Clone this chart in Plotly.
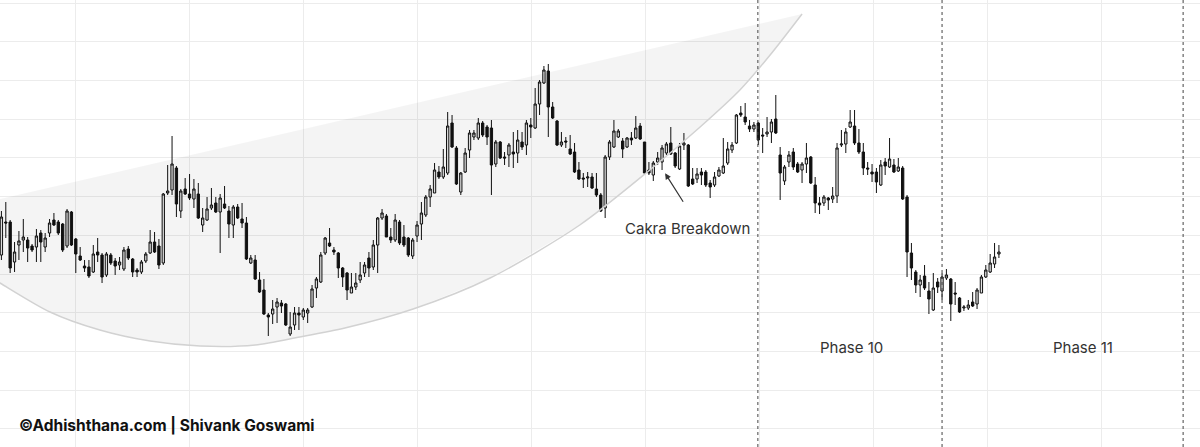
import plotly.graph_objects as go

# ---- OHLC data (index 0..228), prices ----
open_ = [195,228,228,188,205,210,210,204,203,217,
         203,217,230,228,226,204,238,211,194,184,
         183,178,198,195,175,195,189,185,181,201,
         191,180,178,189,197,208,204,187,257,260,
         282,239,261,256,251,256,225,230,242,247,
         238,246,239,225,243,231,227,187,190,170,
         160,135,136,143,147,146,116,125,137,133,
         137,143,162,168,197,207,200,197,182,177,
         157,163,170,177,192,183,205,232,234,213,
         210,228,213,212,194,214,226,235,253,257,
         278,273,277,327,302,258,278,300,313,312,
         327,323,322,286,308,293,295,298,297,308,
         305,325,322,346,367,379,343,329,305,309,
         301,298,280,272,272,273,261,255,242,293,
         303,313,309,303,312,312,324,308,280,275,
         288,288,297,307,297,281,305,305,271,271,
         278,278,267,265,274,277,287,300,307,337,
         333,324,321,327,315,316,318,331,295,269,
         288,298,286,280,286,293,265,247,247,252,
         251,254,305,306,323,324,307,298,282,278,
         278,265,288,283,285,279,282,253,197,178,
         165,174,159,140,168,159,172,171,157,152,
         142,142,148,146,157,173,178,186,196]
high = [239,248,230,208,219,231,213,206,221,220,
        217,231,237,230,227,241,239,212,203,190,
        190,205,212,197,198,197,192,193,203,204,
        192,182,190,198,220,218,211,257,285,314,
        284,261,272,276,271,267,242,253,262,253,
        256,264,244,245,246,247,233,195,195,178,
        171,137,150,152,150,147,138,143,143,142,
        142,165,173,198,213,222,203,198,183,178,
        177,177,188,188,198,210,233,241,236,222,
        236,230,225,213,212,229,248,255,265,287,
        284,301,338,335,304,278,302,320,320,332,
        329,325,330,310,309,298,307,318,320,318,
        330,332,362,370,384,386,348,330,318,313,
        315,307,288,277,278,277,277,257,295,310,
        330,321,312,313,318,334,327,308,288,289,
        298,305,308,323,298,307,317,306,282,282,
        282,280,270,278,283,312,308,308,336,344,
        347,330,328,328,322,333,331,355,303,285,
        299,302,288,288,307,294,273,253,255,253,
        263,307,320,322,340,340,321,307,288,286,
        282,290,292,312,291,292,284,255,207,180,
        175,185,168,177,172,177,181,172,168,153,
        145,150,158,162,175,185,196,207,205]
low = [190,212,177,178,190,198,188,198,188,188,
       198,213,224,215,198,202,204,177,189,178,
       172,177,188,167,173,185,175,180,179,190,
       173,173,176,187,196,197,181,185,255,255,
       233,232,255,250,242,231,218,229,240,237,
       197,241,212,212,231,222,190,186,170,157,
       135,114,126,127,137,124,114,120,120,130,
       127,142,152,167,195,203,195,172,163,150,
       157,160,167,173,173,180,177,230,213,207,
       208,205,203,193,191,208,210,233,243,257,
       271,271,275,302,265,255,277,292,310,310,
       313,305,255,283,291,285,283,282,287,300,
       295,312,321,335,366,313,331,304,303,302,
       295,277,270,262,263,261,253,238,232,290,
       302,312,292,302,305,311,310,276,275,269,
       285,280,295,295,282,280,300,263,265,267,
       265,263,252,263,273,276,285,297,306,333,
       325,318,318,305,297,313,307,316,250,265,
       283,280,277,267,277,266,237,236,244,240,
       247,247,303,297,322,305,296,275,275,268,
       257,264,275,282,277,278,250,173,170,157,
       153,160,136,139,157,150,170,129,145,137,
       139,140,143,141,157,172,177,182,192]
close = [233,227,182,198,209,213,202,200,214,208,
         212,227,225,217,200,239,205,196,190,182,
         174,196,195,173,196,187,184,188,200,192,
         178,178,188,196,208,198,185,256,259,286,
         246,259,256,252,261,232,232,241,245,238,
         252,242,226,243,232,227,191,192,171,158,
         136,133,141,148,144,125,123,137,135,140,
         140,161,171,195,212,204,198,182,173,160,
         163,167,175,185,182,205,232,237,213,210,
         230,207,205,195,210,225,237,253,261,280,
         273,283,324,303,266,277,297,317,317,327,
         315,313,285,308,292,292,305,296,310,303,
         327,323,346,368,380,343,332,305,308,308,
         296,278,271,271,273,262,255,239,293,308,
         319,319,301,312,310,322,311,277,277,287,
         292,302,306,296,284,304,307,264,266,276,
         275,265,263,273,280,284,301,305,335,335,
         328,321,325,310,314,318,328,317,277,283,
         295,283,278,286,292,267,247,245,253,250,
         254,302,306,318,328,307,298,282,281,276,
         268,285,284,291,278,283,251,198,182,165,
         170,162,151,162,163,173,175,146,156,138,
         143,145,144,160,173,180,187,193,198]
bars = list(range(len(open_)))

# ---- drawings (in bar-index / price coordinates) ----
arc_lower_x = [-3, -0.33, 11.1, 22.5, 34.0, 45.4, 58.0, 68.2, 78.5, 94.1,
               111.7, 132.2, 148.2, 159.7, 168.8, 175.7, 183.0]
arc_lower_y = [174, 167, 138, 120, 109, 104, 105, 113, 122, 141,
               172, 225, 280, 323, 360, 395, 436]
arc_upper_x = [183.0, -3]
arc_upper_y = [436, 248.3]
phase_lines = [172.9, 215.0, 270.1]

fig = go.Figure()

fig.add_trace(go.Scatter(
    x=arc_lower_x + arc_upper_x, y=arc_lower_y + arc_upper_y,
    fill="toself", fillcolor="rgba(0,0,0,0.045)", mode="lines",
    line=dict(width=0, color="rgba(0,0,0,0)"), hoverinfo="skip", showlegend=False))
fig.add_trace(go.Scatter(
    x=arc_lower_x, y=arc_lower_y, mode="lines",
    line=dict(width=1.5, color="#d2d2d2", shape="spline", smoothing=0.8),
    hoverinfo="skip", showlegend=False))

fig.add_trace(go.Candlestick(
    x=bars, open=open_, high=high, low=low, close=close,
    increasing=dict(line=dict(color="#111111", width=1), fillcolor="#e4e4e4"),
    decreasing=dict(line=dict(color="#111111", width=1), fillcolor="#111111"),
    showlegend=False))

for px in phase_lines:
    fig.add_shape(type="line", x0=px, x1=px, y0=0, y1=1, xref="x", yref="paper",
                  line=dict(color="#444444", width=1, dash="dot"))

font = "Inter, 'Open Sans', sans-serif"
fig.add_annotation(x=156.9, y=222, text="Cakra Breakdown", showarrow=False,
                   font=dict(family=font, size=15, color="#333333"))
fig.add_annotation(x=151.7, y=276.7, ax=19, ay=30, text="", showarrow=True,
                   arrowhead=2, arrowsize=1, arrowwidth=1.2, arrowcolor="#333333")
fig.add_annotation(x=194.2, y=103, text="Phase 10", showarrow=False,
                   font=dict(family=font, size=15, color="#333333"))
fig.add_annotation(x=247.2, y=103, text="Phase 11", showarrow=False,
                   font=dict(family=font, size=15, color="#333333"))
fig.add_annotation(x=17 / 1200, y=(447 - 425) / 447, xref="paper", yref="paper",
                   xanchor="left", yanchor="middle", showarrow=False,
                   text="<b>©Adhishthana.com | Shivank Goswami</b>",
                   font=dict(family=font, size=15.5, color="#111111"))

fig.update_layout(
    width=1200, height=447, margin=dict(l=0, r=0, t=0, b=0),
    paper_bgcolor="white", plot_bgcolor="white", showlegend=False,
    boxgap=0.25,
    xaxis=dict(range=[-0.3257, 273.96], showgrid=True, gridcolor="#ececec",
               tick0=16.98, dtick=26.06, showticklabels=False, zeroline=False,
               rangeslider=dict(visible=False), ticks=""),
    yaxis=dict(range=[3, 450], showgrid=True, gridcolor="#ececec",
               tick0=21.3, dtick=38.675, showticklabels=False, zeroline=False, ticks=""),
)

fig.write_html("out.html", config={"displayModeBar": False},
               post_script="document.body.style.margin='0';")
